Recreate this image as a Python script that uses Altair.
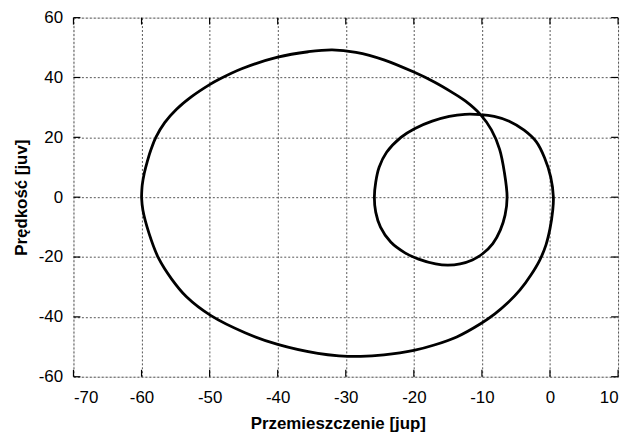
import altair as alt
import pandas as pd

# Phase-portrait curve (displacement, velocity), in path order
disp = [-60.0, -59.9, -59.6, -59.15, -58.6, -57.9, -56.6, -54.9, -52.7, -50.0,
        -48.6, -45.2, -40.0, -35.5, -32.0, -28.5, -24.4, -20.0, -17.0, -14.5,
        -12.4, -10.2, -8.6, -7.4, -6.7, -6.3,
        -6.6, -7.3, -8.4, -9.9, -11.4, -13.2, -15.0, -16.8, -19.3, -21.3,
        -23.4, -24.9, -25.6, -25.8, -25.6, -25.1, -24.0, -21.9, -19.9, -17.3,
        -14.8, -12.5, -10.2, -8.2, -6.0, -3.8, -2.0, -0.8, 0.1, 0.5,
        0.4, 0.0, -0.6, -1.5, -2.8, -4.4, -6.2, -8.1, -10.2, -13.7,
        -17.0, -20.0, -24.4, -27.8, -31.0, -34.1, -40.0, -44.8, -49.8, -53.4,
        -55.6, -57.5, -58.9, -59.8, -60.0]
vel = [0.0, 4.0, 8.0, 12.0, 16.0, 20.0, 24.9, 29.3, 33.5, 37.6,
       39.4, 43.0, 46.8, 48.6, 49.25, 48.4, 45.9, 41.8, 38.5, 35.2,
       32.1, 27.6, 22.5, 16.0, 8.3, 0.0,
       -6.0, -11.0, -15.5, -18.9, -21.0, -22.3, -22.7, -22.3, -20.7, -18.6,
       -15.0, -10.0, -5.0, 0.0, 5.0, 10.0, 15.0, 20.0, 22.9, 25.4,
       27.0, 27.7, 27.6, 27.0, 25.4, 22.4, 18.5, 13.2, 6.8, 0.0,
       -4.5, -10.5, -16.0, -21.0, -26.0, -31.0, -35.3, -39.0, -42.3, -46.7,
       -49.4, -51.2, -52.7, -53.2, -53.0, -52.2, -49.2, -45.3, -39.6, -33.3,
       -27.3, -20.4, -12.1, -4.4, 0.0]

x_ticks = [-70, -60, -50, -40, -30, -20, -10, 0, 10]
y_ticks = [-60, -40, -20, 0, 20, 40, 60]

W, H = 549, 362
TICK = 7
FONT = "Liberation Sans"

curve = pd.DataFrame({"x": disp, "y": vel, "i": list(range(len(disp)))})
xt = pd.DataFrame({"v": x_ticks})
yt = pd.DataFrame({"v": y_ticks})

xscale = alt.Scale(domain=[-70, 10], nice=False, zero=False)
yscale = alt.Scale(domain=[-60, 60], nice=False, zero=False)

common = dict(grid=True, gridDash=[2, 2], gridColor="#555555", gridWidth=1,
              ticks=False, tickSize=0, domain=False,
              labelExpr="toString(datum.value)",
              labelFontSize=17, labelFont=FONT, labelColor="black",
              titleFont=FONT, titleFontSize=17, titleFontWeight="bold",
              titleColor="black")

xaxis = alt.Axis(values=x_ticks, title="Przemieszczenie [jup]",
                 labelPadding=13, titlePadding=10, titleX=W / 2 - 8, **common)
yaxis = alt.Axis(values=y_ticks, title="Prędkość [juv]",
                 labelPadding=11, titlePadding=8, **common)

line = alt.Chart(curve).mark_line(color="black", strokeWidth=2.8,
                                  interpolate="catmull-rom").encode(
    x=alt.X("x:Q", scale=xscale, axis=xaxis),
    y=alt.Y("y:Q", scale=yscale, axis=yaxis),
    order="i:O",
)

tick_style = dict(color="black", strokeWidth=1.2)
xt_top = alt.Chart(xt).mark_rule(**tick_style).encode(
    x=alt.X("v:Q", scale=xscale), y=alt.value(0), y2=alt.value(TICK))
xt_bot = alt.Chart(xt).mark_rule(**tick_style).encode(
    x=alt.X("v:Q", scale=xscale), y=alt.value(H), y2=alt.value(H - TICK))
yt_left = alt.Chart(yt).mark_rule(**tick_style).encode(
    y=alt.Y("v:Q", scale=yscale), x=alt.value(0), x2=alt.value(TICK))
yt_right = alt.Chart(yt).mark_rule(**tick_style).encode(
    y=alt.Y("v:Q", scale=yscale), x=alt.value(W), x2=alt.value(W - TICK))

chart = alt.layer(xt_top, xt_bot, yt_left, yt_right, line).properties(
    width=W, height=H,
    autosize=alt.AutoSizeParams(type="none"),
    padding={"left": 66, "top": 8, "right": 8, "bottom": 54},
).configure_view(stroke="black", strokeWidth=1.5).configure(background="white")

chart.save("out.html", embed_options={"renderer": "svg", "actions": False})
